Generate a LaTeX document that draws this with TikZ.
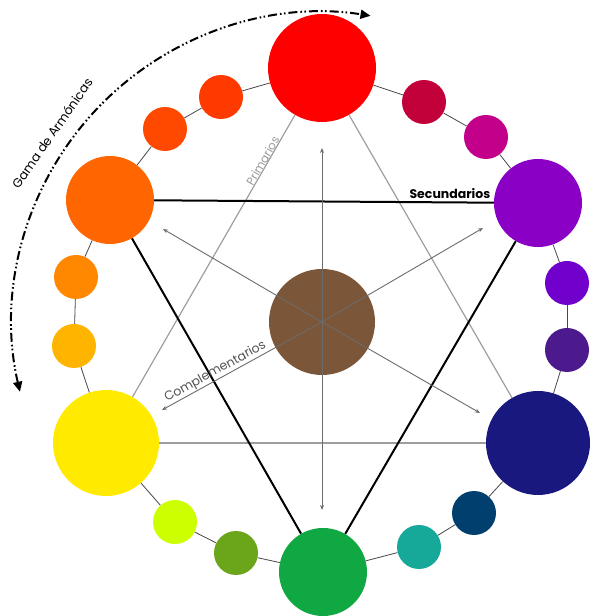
\documentclass[tikz,border=0pt]{standalone}
\usepackage{fontspec}
\setmainfont{Poppins}
\usetikzlibrary{arrows.meta}
\definecolor{cRed}{HTML}{FE0000}
\definecolor{cOR1}{HTML}{FF3A00}
\definecolor{cOR2}{HTML}{FF4800}
\definecolor{cOrange}{HTML}{FF6600}
\definecolor{cOrS}{HTML}{FF8800}
\definecolor{cGold}{HTML}{FFB400}
\definecolor{cYellow}{HTML}{FFEA00}
\definecolor{cYG}{HTML}{CCFF00}
\definecolor{cOlive}{HTML}{6BA51A}
\definecolor{cGreen}{HTML}{10A843}
\definecolor{cTeal}{HTML}{16A898}
\definecolor{cDTeal}{HTML}{003F6E}
\definecolor{cNavy}{HTML}{18187F}
\definecolor{cDPur}{HTML}{4C1A8C}
\definecolor{cPur2}{HTML}{7200CC}
\definecolor{cPurple}{HTML}{8A00C4}
\definecolor{cMag}{HTML}{C2008A}
\definecolor{cCrim}{HTML}{C2003A}
\definecolor{cBrown}{HTML}{7B5638}
\begin{document}
\begin{tikzpicture}[x=1pt,y=1pt,
  dot/.style={circle,inner sep=0pt,draw=none},
  big/.style={dot,minimum size=#1},
  small/.style={dot,minimum size=44pt},
  ringline/.style={draw=black!72,line width=0.8pt},
  primline/.style={draw=black!38,line width=1.2pt},
  secline/.style={draw=black,line width=2pt},
  compline/.style={draw=black!58,line width=0.9pt,-{Stealth[length=5pt,width=4pt]}},
  gama/.style={line width=2pt,dash pattern=on 9pt off 3pt on 1.6pt off 2.4pt on 1.6pt off 3pt,
    {Triangle[length=10pt,width=9pt]}-{Triangle[length=10pt,width=9pt]}},
]
\useasboundingbox (0,0) rectangle (591,616);
% big circles
\node[big=108pt,fill=cRed] (R) at (322,548) {};
\node[big=88pt,fill=cOrange] (O) at (110,416) {};
\node[big=88pt,fill=cPurple] (P) at (538,413) {};
\node[big=106pt,fill=cYellow] (Y) at (106,173) {};
\node[big=104pt,fill=cNavy] (N) at (538,173) {};
\node[big=88pt,fill=cGreen] (G) at (323,44) {};
% small circles
\node[small,fill=cOR1] (OR1) at (221,519) {};
\node[small,fill=cOR2] (OR2) at (165,487) {};
\node[small,fill=cCrim] (CR) at (424,514) {};
\node[small,fill=cMag] (MG) at (486,479) {};
\node[small,fill=cPur2] (PU2) at (567,333) {};
\node[small,fill=cDPur] (PU3) at (567,266) {};
\node[small,fill=cDTeal] (DT) at (474,103) {};
\node[small,fill=cTeal] (TE) at (419,69) {};
\node[small,fill=cOlive] (OL) at (236,63) {};
\node[small,fill=cYG] (YG) at (175,94) {};
\node[small,fill=cGold] (GD) at (74,270) {};
\node[small,fill=cOrS] (OS) at (76,339) {};
% ring connectors
\draw[ringline] (R) -- (CR);
\draw[ringline] (CR) -- (MG);
\draw[ringline] (MG) -- (P);
\draw[ringline] (P) -- (PU2);
\draw[ringline] (PU2) -- (PU3);
\draw[ringline] (PU3) -- (N);
\draw[ringline] (N) -- (DT);
\draw[ringline] (DT) -- (TE);
\draw[ringline] (TE) -- (G);
\draw[ringline] (G) -- (OL);
\draw[ringline] (OL) -- (YG);
\draw[ringline] (YG) -- (Y);
\draw[ringline] (Y) -- (GD);
\draw[ringline] (GD) -- (OS);
\draw[ringline] (OS) -- (O);
\draw[ringline] (O) -- (OR2);
\draw[ringline] (OR2) -- (OR1);
\draw[ringline] (OR1) -- (R);
% primary triangle
\draw[primline] (R) -- (Y);
\draw[primline] (R) -- (N);
\draw[primline] (Y) -- (N);
% secondary triangle
\draw[secline] (O) -- (P);
\draw[secline] (O) -- (G);
\draw[secline] (P) -- (G);
% center
\node[big=106pt,fill=cBrown] (B) at (322,294) {};
\coordinate (aU) at (322,468);
\coordinate (aD) at (322,106);
\coordinate (aUL) at (163,387);
\coordinate (aDR) at (480,203);
\coordinate (aDL) at (162,206);
\coordinate (aUR) at (483,388);
\foreach \e in {aU,aD,aUL,aDR,aDL,aUR} \draw[compline] (B.center) -- (\e);
% labels
\node[anchor=south,rotate=60,text=black!40,font=\fontsize{11.5}{13}\selectfont,inner sep=1.5pt] (lp) at (268,452) {Primarios};
\node[anchor=south east,font=\fontsize{12.5}{14}\selectfont\bfseries,inner sep=1.5pt] (ls) at (492,416) {Secundarios};
\node[anchor=south,rotate=28.8,text=black!68,font=\fontsize{12.5}{14}\selectfont,inner sep=1pt] (lc) at (219,237.5) {Complementarios};
% gama arc
\draw[gama] (322,294) ++(193:310) coordinate (g1) arc[start angle=193,end angle=81,radius=310] coordinate (g2);
\node[rotate=55,font=\fontsize{12.5}{14}\selectfont] (lg) at (52,483) {Gama de Armónicas};
\end{tikzpicture}
\end{document}
